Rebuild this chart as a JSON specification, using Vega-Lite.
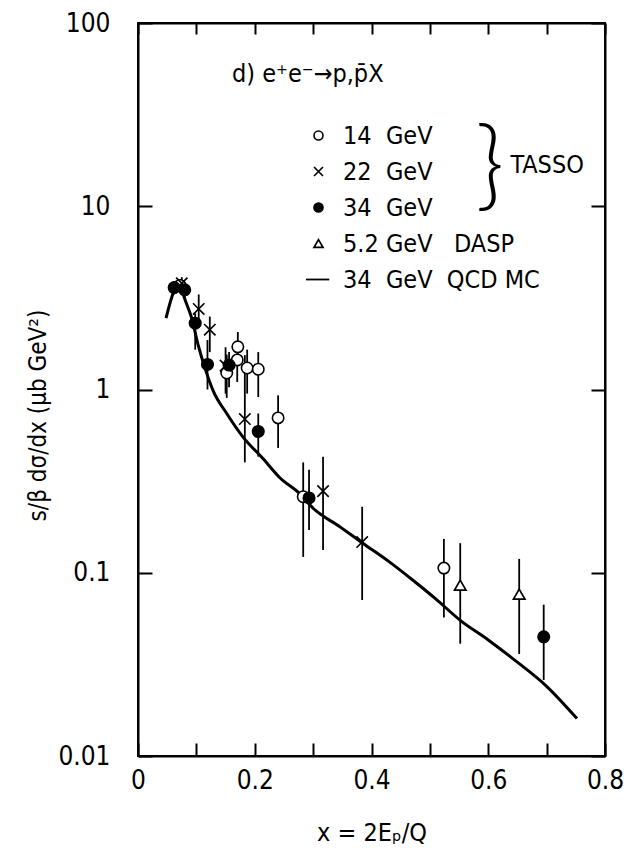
{
  "$schema": "https://vega.github.io/schema/vega-lite/v6.json",
  "autosize": {"type": "none"},
  "padding": {"left": 138, "top": 23, "right": 23, "bottom": 95},
  "width": 467,
  "height": 733,
  "background": "white",
  "config": {
    "font": "Liberation Sans Narrow, DejaVu Sans Condensed, sans-serif",
    "view": {"stroke": "black", "strokeWidth": 2},
    "axis": {"grid": false, "domainColor": "black", "domainWidth": 2, "tickColor": "black", "tickWidth": 2, "labelColor": "black", "titleColor": "black", "labelFont": "Liberation Sans Narrow, DejaVu Sans Condensed, sans-serif", "titleFont": "Liberation Sans Narrow, DejaVu Sans Condensed, sans-serif", "labelFontSize": 26, "titleFontSize": 25, "titleFontWeight": "normal"},
    "legend": {"labelFont": "Liberation Sans Narrow, DejaVu Sans Condensed, sans-serif", "labelFontSize": 25, "labelColor": "black", "symbolSize": 80, "rowPadding": 10, "labelOffset": 12, "labelLimit": 300}
  },
  "datasets": {
    "pts": [
      {"series": "14", "x": 0.072, "y": 3.7, "lo": 3.4, "hi": 4.0},
      {"series": "14", "x": 0.152, "y": 1.23, "lo": 0.9, "hi": 1.55},
      {"series": "14", "x": 0.170, "y": 1.45, "lo": 1.1, "hi": 1.75},
      {"series": "14", "x": 0.171, "y": 1.71, "lo": 1.4, "hi": 2.06},
      {"series": "14", "x": 0.187, "y": 1.31, "lo": 0.95, "hi": 1.65},
      {"series": "14", "x": 0.206, "y": 1.29, "lo": 0.91, "hi": 1.6},
      {"series": "14", "x": 0.240, "y": 0.70, "lo": 0.48, "hi": 0.93},
      {"series": "14", "x": 0.283, "y": 0.26, "lo": 0.122, "hi": 0.40},
      {"series": "14", "x": 0.524, "y": 0.106, "lo": 0.057, "hi": 0.153},
      {"series": "22", "x": 0.075, "y": 3.8, "lo": 3.5, "hi": 4.1},
      {"series": "22", "x": 0.104, "y": 2.75, "lo": 2.25, "hi": 3.3},
      {"series": "22", "x": 0.123, "y": 2.12, "lo": 1.6, "hi": 2.5},
      {"series": "22", "x": 0.150, "y": 1.35, "lo": 0.95, "hi": 1.7},
      {"series": "22", "x": 0.183, "y": 0.69, "lo": 0.40, "hi": 1.54},
      {"series": "22", "x": 0.317, "y": 0.279, "lo": 0.133, "hi": 0.43},
      {"series": "22", "x": 0.384, "y": 0.147, "lo": 0.071, "hi": 0.229},
      {"series": "34", "x": 0.062, "y": 3.6, "lo": 3.3, "hi": 3.9},
      {"series": "34", "x": 0.080, "y": 3.5, "lo": 3.2, "hi": 3.8},
      {"series": "34", "x": 0.098, "y": 2.3, "lo": 1.65, "hi": 2.6},
      {"series": "34", "x": 0.119, "y": 1.37, "lo": 1.0, "hi": 1.86},
      {"series": "34", "x": 0.156, "y": 1.36, "lo": 1.03, "hi": 1.6},
      {"series": "34", "x": 0.206, "y": 0.59, "lo": 0.43, "hi": 0.74},
      {"series": "34", "x": 0.293, "y": 0.256, "lo": 0.171, "hi": 0.365},
      {"series": "34", "x": 0.695, "y": 0.0447, "lo": 0.026, "hi": 0.067},
      {"series": "DASP", "x": 0.552, "y": 0.0856, "lo": 0.041, "hi": 0.145},
      {"series": "DASP", "x": 0.653, "y": 0.0765, "lo": 0.036, "hi": 0.119}
    ],
    "curve": [
      {"x": 0.048, "y": 2.45}, {"x": 0.058, "y": 3.2}, {"x": 0.066, "y": 3.65},
      {"x": 0.072, "y": 3.6}, {"x": 0.082, "y": 3.0}, {"x": 0.092, "y": 2.45},
      {"x": 0.103, "y": 1.75}, {"x": 0.115, "y": 1.3}, {"x": 0.129, "y": 0.98},
      {"x": 0.152, "y": 0.74}, {"x": 0.180, "y": 0.55}, {"x": 0.214, "y": 0.42},
      {"x": 0.243, "y": 0.33}, {"x": 0.277, "y": 0.27}, {"x": 0.300, "y": 0.225},
      {"x": 0.346, "y": 0.178}, {"x": 0.385, "y": 0.145}, {"x": 0.430, "y": 0.115},
      {"x": 0.471, "y": 0.091}, {"x": 0.510, "y": 0.072}, {"x": 0.552, "y": 0.055},
      {"x": 0.600, "y": 0.043}, {"x": 0.642, "y": 0.034}, {"x": 0.700, "y": 0.024},
      {"x": 0.752, "y": 0.016}
    ]
  },
  "resolve": {"axis": {"x": "independent", "y": "independent"}},
  "layer": [
    {
      "data": {"name": "pts"},
      "mark": {"type": "rule", "color": "black", "strokeWidth": 1.8},
      "encoding": {
        "x": {"field": "x", "type": "quantitative", "scale": {"domain": [0, 0.8], "nice": false, "zero": false},
              "axis": {"orient": "bottom", "values": [0, 0.1, 0.2, 0.3, 0.4, 0.5, 0.6, 0.7, 0.8], "tickSize": -13, "labelPadding": 24,
                       "labelExpr": "round(datum.value*10) % 2 == 0 ? (datum.value == 0 ? '0' : format(datum.value, '.1f')) : ''",
                       "title": "x = 2Eₚ/Q", "titleY": 76, "titleBaseline": "middle", "labelFlush": false}},
        "y": {"field": "lo", "type": "quantitative", "scale": {"type": "log", "domain": [0.01, 100], "nice": false},
              "axis": {"orient": "left", "values": [0.01, 0.1, 1, 10, 100], "format": "~g", "tickSize": -14, "labelPadding": 42, "labelFlush": false,
                       "title": "s/β  dσ/dx  (μb GeV²)", "titleAngle": -90, "titleX": -100, "titleY": 392, "titleBaseline": "middle", "titleAlign": "center", "titleFontSize": 24}},
        "y2": {"field": "hi"}
      }
    },
    {
      "data": {"name": "curve"},
      "mark": {"type": "line", "color": "black", "strokeWidth": 3, "interpolate": "monotone"},
      "encoding": {
        "x": {"field": "x", "type": "quantitative", "axis": {"orient": "top", "values": [0, 0.1, 0.2, 0.3, 0.4, 0.5, 0.6, 0.7, 0.8], "labels": false, "tickSize": -11, "title": null}},
        "y": {"field": "y", "type": "quantitative", "axis": {"orient": "right", "values": [0.01, 0.1, 1, 10, 100], "labels": false, "tickSize": -14, "title": null}}
      }
    },
    {
      "data": {"name": "pts"},
      "mark": {"type": "point", "size": 130, "opacity": 1, "filled": true},
      "encoding": {
        "x": {"field": "x", "type": "quantitative", "axis": null},
        "y": {"field": "y", "type": "quantitative", "axis": null},
        "shape": {"field": "series", "type": "nominal",
                  "scale": {"domain": ["14", "22", "34", "DASP", "QCD"], "range": ["circle", "M-1,-1L1,1M-1,1L1,-1", "circle", "triangle-up", "M-2.8,0L2.4,0"]},
                  "legend": {"orient": "none", "legendX": 168, "legendY": 100, "title": null,
                             "labelExpr": "{'14': ' 14\u00a0\u00a0GeV', '22': '22\u00a0\u00a0GeV', '34': ' 34\u00a0\u00a0GeV', 'DASP': '5.2\u00a0GeV\u00a0\u00a0\u00a0DASP', 'QCD': '34\u00a0\u00a0GeV\u00a0\u00a0QCD\u00a0MC'}[datum.label]"}},
        "fill": {"field": "series", "type": "nominal",
                 "scale": {"domain": ["14", "22", "34", "DASP", "QCD"], "range": ["white", "transparent", "black", "white", "transparent"]},
                 "legend": {"orient": "none", "legendX": 168, "legendY": 100, "title": null,
                            "labelExpr": "{'14': ' 14\u00a0\u00a0GeV', '22': '22\u00a0\u00a0GeV', '34': ' 34\u00a0\u00a0GeV', 'DASP': '5.2\u00a0GeV\u00a0\u00a0\u00a0DASP', 'QCD': '34\u00a0\u00a0GeV\u00a0\u00a0QCD\u00a0MC'}[datum.label]"}},
        "stroke": {"field": "series", "type": "nominal",
                   "scale": {"domain": ["14", "22", "34", "DASP", "QCD"], "range": ["black", "black", "black", "black", "black"]},
                   "legend": {"orient": "none", "legendX": 168, "legendY": 100, "title": null,
                              "labelExpr": "{'14': ' 14\u00a0\u00a0GeV', '22': '22\u00a0\u00a0GeV', '34': ' 34\u00a0\u00a0GeV', 'DASP': '5.2\u00a0GeV\u00a0\u00a0\u00a0DASP', 'QCD': '34\u00a0\u00a0GeV\u00a0\u00a0QCD\u00a0MC'}[datum.label]"}},
        "strokeWidth": {"field": "series", "type": "nominal",
                        "scale": {"domain": ["14", "22", "34", "DASP", "QCD"], "range": [1.6, 1.8, 1.6, 1.6, 3.5]},
                        "legend": {"orient": "none", "legendX": 168, "legendY": 100, "title": null,
                                   "labelExpr": "{'14': ' 14\u00a0\u00a0GeV', '22': '22\u00a0\u00a0GeV', '34': ' 34\u00a0\u00a0GeV', 'DASP': '5.2\u00a0GeV\u00a0\u00a0\u00a0DASP', 'QCD': '34\u00a0\u00a0GeV\u00a0\u00a0QCD\u00a0MC'}[datum.label]"}}
      }
    },
    {
      "data": {"values": [{}]},
      "mark": {"type": "text", "align": "left", "baseline": "middle", "fontSize": 25, "color": "black"},
      "encoding": {
        "x": {"datum": 0.161, "type": "quantitative", "axis": null},
        "y": {"datum": 53, "type": "quantitative", "axis": null},
        "text": {"value": "d)  e⁺e⁻→p,p̄X"}
      }
    },
    {
      "data": {"values": [{}]},
      "mark": {"type": "text", "align": "left", "baseline": "middle", "fontSize": 25, "color": "black"},
      "encoding": {
        "x": {"datum": 0.638, "type": "quantitative", "axis": null},
        "y": {"datum": 16.8, "type": "quantitative", "axis": null},
        "text": {"value": "TASSO"}
      }
    },
    {
      "data": {"values": [{}]},
      "mark": {"type": "text", "align": "center", "baseline": "middle", "fontSize": 98, "fontWeight": 300, "font": "Lato", "color": "black"},
      "encoding": {
        "x": {"datum": 0.603, "type": "quantitative", "axis": null},
        "y": {"datum": 16.0, "type": "quantitative", "axis": null},
        "text": {"value": "}"}
      }
    }
  ]
}
